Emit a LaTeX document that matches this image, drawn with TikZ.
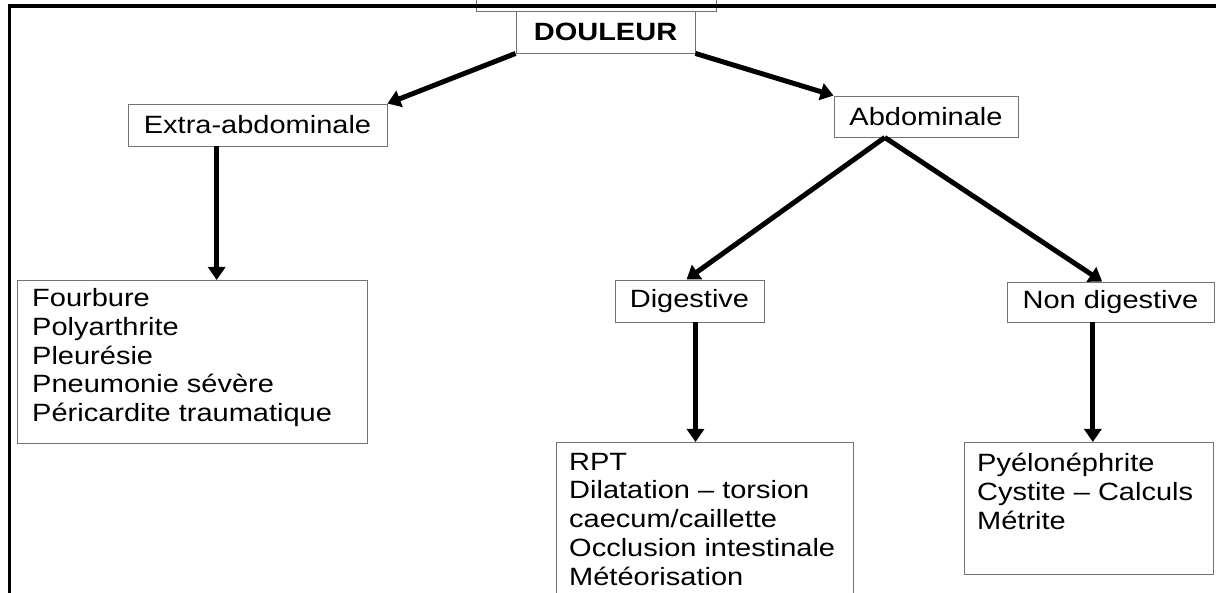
\documentclass[tikz,border=0pt]{standalone}
\usepackage{fontspec}
\setmainfont{Liberation Sans}[FakeStretch=1.16]
\usetikzlibrary{arrows.meta,calc}
\begin{document}
\begin{tikzpicture}[x=1pt,y=-1pt,
  txtfont/.style={font=\fontsize{25}{28.7}\selectfont},
  box/.style={draw=black!55, line width=0.9pt, inner sep=0pt, txtfont},
  lbl/.style={inner sep=0pt, align=left, anchor=north west, txtfont},
  arr/.style={line width=5pt, -{Triangle[length=13pt,width=17pt]}},
  frameline/.style={line width=3.6pt}]
\useasboundingbox (0,0) rectangle (1216,593);
\clip (0,0) rectangle (1216,593);
% partially hidden box above DOULEUR
\node[box, minimum width=240, minimum height=16] (topbox) at (596,3) {};
% frame
\coordinate (fbl) at (9.3,600);
\coordinate (ftl) at (9.3,5.8);
\coordinate (ftr) at (1220,5.8);
\draw[frameline] (fbl) -- (ftl) -- (ftr);
% nodes
\node[box, minimum width=179, minimum height=42, font=\fontsize{25}{28.7}\selectfont\bfseries] (dou) at (605.5,32) {DOULEUR};
\node[box, minimum width=259, minimum height=42] (ext) at (257.5,125) {Extra-abdominale};
\node[box, minimum width=184, minimum height=41] (abd) at (926,116.5) {Abdominale};
\node[box, minimum width=149, minimum height=42] (dig) at (689.5,301) {Digestive};
\node[box, minimum width=207, minimum height=40] (nd) at (1110.5,302) {Non digestive};
\node[box, minimum width=350, minimum height=163, anchor=north west] (extlist) at (17,280) {};
\node[box, minimum width=297, minimum height=200, anchor=north west] (diglist) at (556,442) {};
\node[box, minimum width=249, minimum height=132, anchor=north west] (ndlist) at (964,442) {};
\node[lbl] (extlisttxt) at (32,286.7) {\rule{0pt}{20pt}Fourbure\\Polyarthrite\\Pleurésie\\Pneumonie sévère\\Péricardite traumatique};
\node[lbl] (diglisttxt) at (569,450) {\rule{0pt}{20pt}RPT\\Dilatation – torsion\\caecum/caillette\\Occlusion intestinale\\Météorisation};
\node[lbl] (ndlisttxt) at (977,451.7) {\rule{0pt}{20pt}Pyélonéphrite\\Cystite – Calculs\\Métrite};
% connectors
\draw[arr] (dou.south west) -- (ext.north east);
\draw[arr] (dou.south east) -- (abd.north west);
\coordinate (apex) at ($(abd.south west)!0.277!(abd.south east)$);
\draw[arr] (apex) -- ($(dig.north west)!0.48!(dig.north east)$);
\draw[arr] (apex) -- ($(nd.north west)!0.46!(nd.north east)$);
\coordinate (extout) at ($(ext.south west)!0.343!(ext.south east)$);
\draw[arr] (extout) -- (extout |- extlist.north);
\coordinate (digout) at ($(dig.south west)!0.54!(dig.south east)$);
\draw[arr] (digout) -- (digout |- diglist.north);
\coordinate (ndout) at ($(nd.south west)!0.415!(nd.south east)$);
\draw[arr] (ndout) -- (ndout |- ndlist.north);
\end{tikzpicture}
\end{document}
